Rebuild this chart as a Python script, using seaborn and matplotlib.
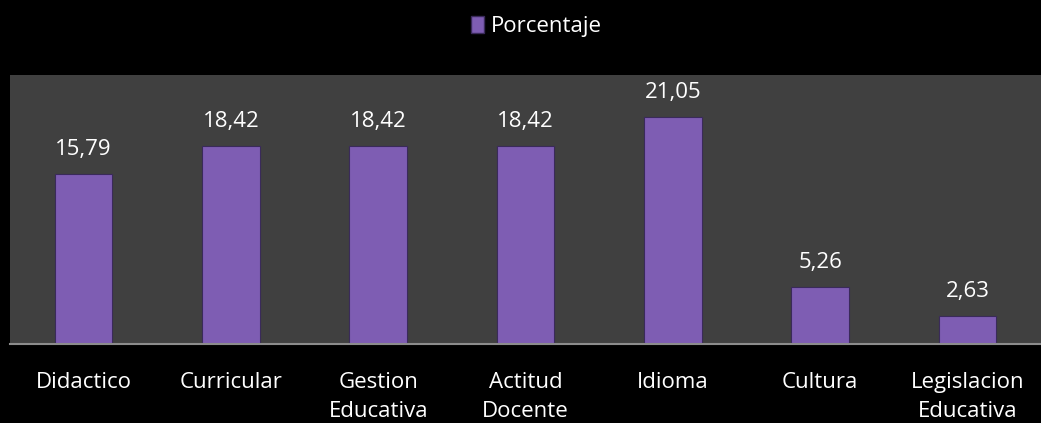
import matplotlib
matplotlib.use("Agg")
import matplotlib.pyplot as plt
import seaborn as sns
import pandas as pd
from matplotlib.patches import Patch

categorias = ["Didactico", "Curricular", "Gestion\nEducativa", "Actitud\nDocente",
              "Idioma", "Cultura", "Legislacion\nEducativa"]
porcentaje = [15.79, 18.42, 18.42, 18.42, 21.05, 5.26, 2.63]
etiquetas = ["15,79", "18,42", "18,42", "18,42", "21,05", "5,26", "2,63"]

df = pd.DataFrame({"categoria": categorias, "porcentaje": porcentaje})

sns.set_theme(style="dark")
plt.rcParams["font.family"] = ["Open Sans", "DejaVu Sans"]

bar_color = "#7e5db3"

fig = plt.figure(figsize=(10.41, 4.23), dpi=100, facecolor="black")
ax = fig.add_axes([0.0096, 0.187, 0.9904, 0.636])
ax.set_facecolor("#404040")

sns.barplot(data=df, x="categoria", y="porcentaje", color=bar_color,
            width=0.39, saturation=1, ax=ax, edgecolor="#3a2a5a", linewidth=0.8)

# labels above bars
for i, (v, t) in enumerate(zip(porcentaje, etiquetas)):
    ax.text(i, v + 1.3, t, ha="center", va="bottom", color="white", fontsize=16)

ax.set_ylim(0, 25)
ax.set_xlim(-0.5, len(categorias) - 0.5)
ax.set_yticks([])
ax.set_xlabel("")
ax.set_ylabel("")
ax.tick_params(axis="x", colors="white", labelsize=16, length=0, pad=20)
for lbl in ax.get_xticklabels():
    lbl.set_linespacing(1.55)
for s in ["top", "right", "left"]:
    ax.spines[s].set_visible(False)
ax.spines["bottom"].set_color("#8c8c8c")
ax.spines["bottom"].set_linewidth(1.5)
ax.grid(False)

fig.legend(handles=[Patch(facecolor=bar_color, edgecolor="#3a2a5a")],
           labels=["Porcentaje"], loc="upper center", bbox_to_anchor=(0.515, 1.01),
           frameon=False, fontsize=16, labelcolor="white",
           handlelength=0.6, handleheight=0.8, handletextpad=0.3)

fig.savefig("out.png", dpi=100, facecolor="black")
